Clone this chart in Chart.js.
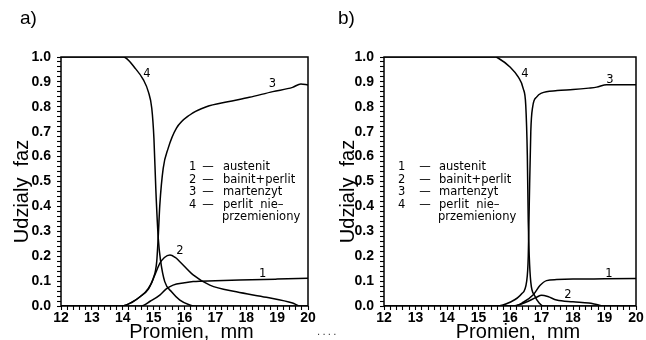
<!DOCTYPE html>
<html><head><meta charset="utf-8">
<script src="https://cdn.jsdelivr.net/npm/chart.js@4.4.1/dist/chart.umd.min.js"></script>
<style>
html,body{margin:0;padding:0;background:#fff;width:646px;height:340px;overflow:hidden;}
canvas{position:absolute;top:0;}
#ca{left:0}
#cb{left:323px}
#dots{position:absolute;left:317px;top:326px;font:10px "DejaVu Sans";letter-spacing:2.2px;color:#333;}
</style></head><body>
<canvas id="ca" width="323" height="340"></canvas>
<canvas id="cb" width="323" height="340"></canvas>
<div id="dots">....</div>
<script>
// ---- tick labels ----
const xTickValues = [12, 13, 14, 15, 16, 17, 18, 19, 20];
const xTickLabels = ['12', '13', '14', '15', '16', '17', '18', '19', '20'];
const yTickLabels = ['0.0', '0.1', '0.2', '0.3', '0.4', '0.5', '0.6', '0.7', '0.8', '0.9', '1.0'];
const seriesNumbers = ['1', '2', '3', '4'];
const seriesNames = ['austenit', 'bainit+perlit', 'martenzyt', 'perlit  nie\u2013'];
const seriesNameCont = 'przemieniony';

// ---- panel a) ----
const a_x1 = [12, 14.6, 14.9, 15.2, 15.4, 15.63, 16.0, 16.28, 17.0, 17.78, 19.0, 20];
const a_y1 = [0, 0, 0.02, 0.044, 0.068, 0.084, 0.093, 0.098, 0.101, 0.104, 0.108, 0.111];
const a_x2 = [12, 13.97, 14.3, 14.56, 14.83, 15.04, 15.2, 15.35, 15.53, 15.7, 15.85, 16.28, 16.82, 17.68, 18.65, 19.5, 19.75, 20];
const a_y2 = [0, 0, 0.015, 0.037, 0.068, 0.125, 0.171, 0.195, 0.205, 0.195, 0.178, 0.125, 0.084, 0.057, 0.035, 0.012, 0, 0];
const a_x3 = [12, 13.97, 14.3, 14.56, 14.83, 14.99, 15.1, 15.15, 15.2, 15.31, 15.47, 15.74, 16.17, 16.71, 17.4, 18.1, 18.86, 19.5, 19.77, 20];
const a_y3 = [0, 0, 0.015, 0.037, 0.071, 0.11, 0.178, 0.28, 0.405, 0.553, 0.633, 0.714, 0.767, 0.8, 0.82, 0.838, 0.861, 0.878, 0.892, 0.888];
const a_x4 = [12, 14.02, 14.4, 14.67, 14.83, 14.94, 15.01, 15.07, 15.15, 15.23, 15.36, 15.58, 15.85, 16.17, 16.3, 20];
const a_y4 = [1, 1, 0.955, 0.908, 0.86, 0.794, 0.673, 0.473, 0.272, 0.178, 0.098, 0.057, 0.024, 0.004, 0, 0];

// ---- panel b) ----
const b_x1 = [12, 16.15, 16.42, 16.74, 16.95, 17.16, 17.48, 18, 19, 20];
const b_y1 = [0, 0, 0.015, 0.045, 0.082, 0.102, 0.106, 0.108, 0.109, 0.11];
const b_x2 = [12, 16.1, 16.5, 16.84, 17.0, 17.2, 17.48, 18.0, 18.5, 18.75, 19.0, 20];
const b_y2 = [0, 0, 0.015, 0.035, 0.043, 0.038, 0.024, 0.017, 0.012, 0.006, 0, 0];
const b_x3 = [12, 15.57, 16.0, 16.37, 16.53, 16.58, 16.61, 16.66, 16.72, 16.85, 17.0, 17.5, 18.0, 18.5, 18.75, 19.07, 20];
const b_y3 = [0, 0, 0.015, 0.049, 0.1, 0.2, 0.4, 0.7, 0.8, 0.84, 0.855, 0.865, 0.869, 0.875, 0.879, 0.889, 0.889];
const b_x4 = [12, 15.55, 15.62, 16.0, 16.26, 16.42, 16.5, 16.55, 16.58, 16.61, 16.66, 16.78, 16.95, 17.05, 20];
const b_y4 = [1, 1, 0.996, 0.96, 0.92, 0.873, 0.806, 0.605, 0.337, 0.203, 0.096, 0.042, 0.009, 0, 0];

function pts(xs, ys) { return xs.map((x, i) => ({x: x, y: ys[i]})); }

function makePanel(id, series, cfg) {
  const datasets = series.map(s => ({
    data: pts(s[0], s[1]),
    borderColor: '#000',
    borderWidth: 1.5,
    pointRadius: 0,
    fill: false,
    cubicInterpolationMode: 'monotone',
    tension: 0.4
  }));
  const deco = {
    id: 'deco' + id,
    afterDraw(chart) {
      const ctx = chart.ctx, a = chart.chartArea;
      const xs = chart.scales.x, ys = chart.scales.y;
      ctx.save();
      ctx.strokeStyle = '#000';
      ctx.lineWidth = 1.5;
      ctx.strokeRect(a.left, a.top, a.right - a.left, a.bottom - a.top);
      ctx.fillStyle = '#000';
      // panel letter
      ctx.font = '19px "Liberation Sans"';
      ctx.textAlign = 'left';
      ctx.textBaseline = 'alphabetic';
      ctx.fillText(cfg.letter, cfg.letterX, 24);
      // x title
      ctx.font = '20px "Liberation Sans"';
      ctx.textAlign = 'center';
      ctx.fillText('Promien,  mm', cfg.xTitleX, 338);
      // y title
      ctx.save();
      ctx.translate(cfg.yTitleX, 191.5);
      ctx.rotate(-Math.PI / 2);
      ctx.textAlign = 'center';
      ctx.fillText('Udzialy  faz', 0, 0);
      ctx.restore();
      // curve labels
      ctx.font = '11.5px "DejaVu Sans"';
      ctx.textAlign = 'center';
      cfg.curveLabelPos.forEach((p, i) => {
        ctx.fillText(seriesNumbers[i], xs.getPixelForValue(p[0]), ys.getPixelForValue(p[1]) + 4.2);
      });
      // legend
      const rows = [170, 182.5, 195, 207.5];
      rows.forEach((yy, i) => {
        ctx.textAlign = 'left';
        ctx.fillText(seriesNumbers[i], cfg.legNum, yy);
        ctx.textAlign = 'center';
        ctx.fillText('\u2014', cfg.legDash, yy);
        ctx.textAlign = 'left';
        ctx.fillText(seriesNames[i], cfg.legWord, yy);
      });
      ctx.fillText(seriesNameCont, cfg.legWord - 1, 220);
      ctx.restore();
    }
  };
  return new Chart(document.getElementById(id), {
    type: 'line',
    data: {datasets: datasets},
    plugins: [deco],
    options: {
      responsive: false,
      animation: false,
      events: [],
      layout: {padding: {left: 0, top: 57, right: cfg.padRight, bottom: 0}},
      plugins: {legend: {display: false}, tooltip: {enabled: false}},
      scales: {
        x: {
          type: 'linear', min: 12, max: 20,
          afterFit(s) { s.height = 34; },
          border: {display: false},
          grid: {drawOnChartArea: false, drawTicks: true, tickLength: 4, color: '#000', tickWidth: 1.1},
          ticks: {
            stepSize: 0.2, autoSkip: false, maxRotation: 0, minRotation: 0, padding: 0,
            color: '#000', font: {family: 'Liberation Sans', size: 14, weight: 'bold'},
            callback(v) {
              const r = Math.round(v);
              if (Math.abs(v - r) > 1e-6) return '';
              const k = xTickValues.indexOf(r);
              return k >= 0 ? xTickLabels[k] : '';
            }
          }
        },
        y: {
          type: 'linear', min: 0, max: 1,
          afterFit(s) { s.width = 61; },
          border: {display: false},
          grid: {drawOnChartArea: false, drawTicks: true, tickLength: 4, color: '#000', tickWidth: 1.1},
          ticks: {
            stepSize: 0.02, autoSkip: false, padding: 6,
            color: '#000', font: {family: 'Liberation Sans', size: 14, weight: 'bold'},
            callback(v) {
              const r = Math.round(v * 10);
              if (Math.abs(v * 10 - r) > 1e-6) return '';
              return yTickLabels[r];
            }
          }
        }
      }
    }
  });
}

makePanel('ca', [[a_x1, a_y1], [a_x2, a_y2], [a_x3, a_y3], [a_x4, a_y4]], {
  letter: 'a)', letterX: 20, xTitleX: 191.5, yTitleX: 28.3, padRight: 15,
  curveLabelPos: [[18.53, 0.133], [15.85, 0.225], [18.85, 0.898], [14.78, 0.936]],
  legNum: 189, legDash: 208, legWord: 223
});
makePanel('cb', [[b_x1, b_y1], [b_x2, b_y2], [b_x3, b_y3], [b_x4, b_y4]], {
  letter: 'b)', letterX: 15, xTitleX: 195, yTitleX: 31, padRight: 10,
  curveLabelPos: [[19.14, 0.133], [17.84, 0.05], [19.17, 0.914], [16.47, 0.938]],
  legNum: 75, legDash: 102, legWord: 116
});
</script>
</body></html>
